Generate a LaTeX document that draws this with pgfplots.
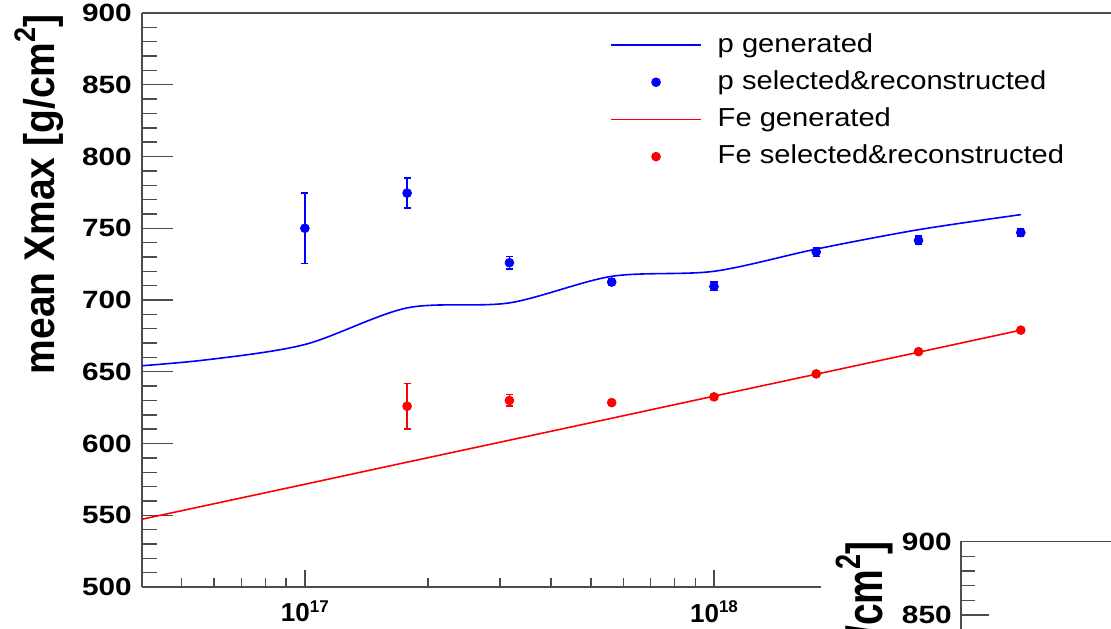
\documentclass[border=0pt]{standalone}
\usepackage{fontspec}
\setmainfont{Liberation Sans}
\usepackage{graphicx}
\usepackage{pgfplots}
\pgfplotsset{compat=1.18}
\definecolor{rblue}{RGB}{0,0,255}
\definecolor{rred}{RGB}{255,0,0}
\definecolor{framec}{gray}{0.3}
\newcommand\tickf{\fontsize{12.5}{12.5}\selectfont\bfseries}
\newcommand\yt[1]{\scalebox{1.19}[1]{#1}}
\newcommand\legt[1]{\scalebox{1.12}[1]{#1}}
\newcommand\xtickf{\fontsize{13}{13}\selectfont\bfseries}
\newcommand\labf{\fontsize{19.5}{19.5}\selectfont\bfseries}
\newcommand\sqr{\raisebox{0.42em}{\fontsize{13.5}{13.5}\selectfont\bfseries 2}}
\newcommand\expo[1]{10\raisebox{0.38em}{\fontsize{8.5}{8.5}\selectfont\bfseries #1}}

\begin{document}
\begin{tikzpicture}
\path[use as bounding box] (0,0) rectangle (555.5pt,314pt);
\clip (0,0) rectangle (555.5pt,314pt);

% ---- main axis: x ticks and bottom/top lines
\begin{axis}[at={(71pt,20.5pt)}, anchor=south west, scale only axis,
  width=490.5pt, height=287pt,
  xmode=log, xmin=4e16, xmax=1e19, ymin=500, ymax=900,
  hide y axis, xtick pos=bottom, tick align=inside,
  xtick={1e17,1e18}, xticklabels={\expo{17},\expo{18}},
  minor xtick={5e16,6e16,7e16,8e16,9e16,2e17,3e17,4e17,5e17,6e17,7e17,8e17,9e17,2e18,3e18,4e18,5e18,6e18,7e18,8e18,9e18},
  major tick length=8.5pt, minor tick length=4.5pt,
  axis line style={framec, line width=0.7pt}, tick style={framec, line width=0.7pt},
  xticklabel style={font=\xtickf, inner sep=0pt, anchor=north, yshift=-6.5pt}]
\end{axis}

% ---- main axis: y ticks, data, legend
\begin{axis}[at={(71pt,20.5pt)}, anchor=south west, scale only axis,
  width=490.5pt, height=287pt,
  xmode=log, xmin=4e16, xmax=1e19, ymin=500, ymax=900,
  hide x axis, ytick pos=left, tick align=inside,
  ytick={500,550,600,650,700,750,800,850,900},
  yticklabels={\yt{500},\yt{550},\yt{600},\yt{650},\yt{700},\yt{750},\yt{800},\yt{850},\yt{900}},
  minor y tick num=4,
  major tick length=15.5pt, minor tick length=7.5pt,
  axis line style={framec, line width=0.7pt}, tick style={framec, line width=0.7pt},
  yticklabel style={font=\tickf, inner sep=0pt, xshift=-5pt},
  legend style={draw=none, fill=none, at={(0.4708,0.9745)}, anchor=north west,
    font=\fontsize{13}{13}\selectfont, row sep=5.6pt,
    nodes={inner sep=0pt, text height=10pt, text depth=3pt},
    /tikz/every odd column/.append style={column sep=8pt}},
  legend cell align=left,
  error bars/error bar style={line width=0.7pt},
  error bars/error mark options={line width=0.7pt, mark size=1.8pt, rotate=90}]

\addplot[rblue, line width=0.8pt, smooth, tension=0.5, forget plot]
  coordinates {(3.162e16,652) (5.623e16,658) (1e17,669) (1.778e17,694.5) (3.162e17,698)
   (5.623e17,716.5) (1e18,720) (1.778e18,735.5) (3.162e18,749) (5.623e18,759.5)};

\addplot[rblue, only marks, mark=*, mark size=2.2pt, forget plot,
  error bars/y dir=both, error bars/y explicit]
  coordinates {(1e17,750) +- (0,24.5) (1.778e17,774.5) +- (0,10.5) (3.162e17,726) +- (0,4.5)
   (5.623e17,712.5) +- (0,2.5) (1e18,709.5) +- (0,3) (1.778e18,733.5) +- (0,3)
   (3.162e18,741.5) +- (0,3) (5.623e18,747) +- (0,2.5)};

\addplot[rred, line width=0.8pt, forget plot]
  coordinates {(3.162e16,541) (5.623e16,556.3) (1e17,571.6) (1.778e17,587) (3.162e17,602.3)
   (5.623e17,617.6) (1e18,633) (1.778e18,648.3) (3.162e18,663.6) (5.623e18,679)};

\addplot[rred, only marks, mark=*, mark size=2.2pt, forget plot,
  error bars/y dir=both, error bars/y explicit]
  coordinates {(1.778e17,626) +- (0,16) (3.162e17,630) +- (0,4) (5.623e17,628.5) +- (0,1.5)
   (1e18,632.5) +- (0,1.5) (1.778e18,648.5) +- (0,1) (3.162e18,664) +- (0,1) (5.623e18,679) +- (0,1)};

\addlegendimage{legend image code/.code={\draw[color=rblue, line width=0.7pt] (0pt,0pt) -- (45pt,0pt);}}
\addlegendentry{\legt{p generated}}
\addlegendimage{legend image code/.code={\draw[color=rblue, fill=rblue, only marks, mark=*, mark size=2.2pt] plot coordinates {(22.5pt,0pt)};}}
\addlegendentry{\legt{p selected\&reconstructed}}
\addlegendimage{legend image code/.code={\draw[color=rred, line width=0.7pt] (0pt,0pt) -- (45pt,0pt);}}
\addlegendentry{\legt{Fe generated}}
\addlegendimage{legend image code/.code={\draw[color=rred, fill=rred, only marks, mark=*, mark size=2.2pt] plot coordinates {(22.5pt,0pt)};}}
\addlegendentry{\legt{Fe selected\&reconstructed}}
\end{axis}

\node[rotate=90, anchor=base east, font=\labf, inner sep=0pt] at (27pt,307pt) {\scalebox{1}[1.1]{mean Xmax [g/cm\sqr]}};

% ---- overlapping second pad
\fill[white] (410.5pt,0pt) rectangle (560pt,79pt);
\begin{axis}[at={(480.5pt,43.25pt)}, anchor=north west, scale only axis,
  width=200pt, height=294.4pt,
  xmin=0, xmax=1, ymin=500, ymax=900, xtick=\empty,
  ytick pos=left, tick align=inside,
  ytick={500,550,600,650,700,750,800,850,900},
  yticklabels={\yt{500},\yt{550},\yt{600},\yt{650},\yt{700},\yt{750},\yt{800},\yt{850},\yt{900}},
  minor y tick num=4,
  major tick length=14pt, minor tick length=7pt,
  axis line style={framec, line width=0.7pt}, tick style={framec, line width=0.7pt},
  yticklabel style={font=\tickf, inner sep=0pt, xshift=-4.5pt}]
\end{axis}
\node[rotate=90, anchor=base east, font=\labf, inner sep=0pt] at (441pt,43.5pt) {\scalebox{1}[1.3]{mean Xmax [g/cm\sqr]}};
\end{tikzpicture}
\end{document}
